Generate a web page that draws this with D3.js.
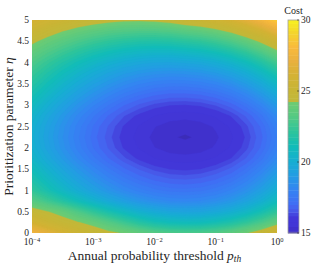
<!DOCTYPE html>
<html>
  <head>
    <meta charset="utf-8">
    <script src="https://d3js.org/d3.v7.min.js"></script>
    <style>
      body { margin: 0; background: #fff; }
      text { font-family: "Liberation Serif", "DejaVu Serif", serif; fill: #262626; }
      .tick { font-size: 9.5px; }
      .title { font-size: 13.5px; }
    </style>
  </head>
  <body>
    <script>

      // grid columns: log10 of the annual probability threshold
      var logP = [-4, -3.75, -3.5, -3.25, -3, -2.75, -2.5, -2.25, -2, -1.75, -1.5, -1.25, -1, -0.75, -0.5, -0.25, 0];
      // grid rows: prioritization parameter eta
      var eta = [0, 0.25, 0.5, 0.75, 1, 1.25, 1.5, 1.75, 2, 2.25, 2.5, 2.75, 3, 3.25, 3.5, 3.75, 4, 4.25, 4.5, 4.75, 5];
      // cost, one row per eta value
      var cost = [
        [27.60,26.90,26.20,25.50,24.95,24.50,24.15,23.70,23.30,23.05,22.95,23.00,23.20,23.58,24.14,24.87,25.77],
        [26.00,25.30,24.75,24.30,23.85,23.20,22.50,21.85,21.35,21.05,20.95,21.00,21.24,21.62,22.17,22.89,23.78],
        [24.80,24.30,23.80,23.00,22.20,21.45,20.80,20.20,19.80,19.52,19.42,19.47,19.69,20.06,20.60,21.32,22.20],
        [23.30,22.60,21.85,21.10,20.40,19.75,19.20,18.75,18.43,18.23,18.17,18.25,18.47,18.84,19.38,20.08,20.96],
        [22.23,21.43,20.66,19.95,19.31,18.74,18.25,17.87,17.58,17.40,17.35,17.43,17.65,18.02,18.55,19.25,20.12],
        [21.63,20.81,20.04,19.33,18.69,18.11,17.62,17.23,16.94,16.75,16.70,16.78,17.00,17.35,17.88,18.58,19.45],
        [21.08,20.26,19.49,18.77,18.13,17.55,17.05,16.66,16.36,16.18,16.12,16.19,16.41,16.76,17.29,17.98,18.85],
        [20.55,19.73,18.95,18.23,17.59,17.01,16.51,16.11,15.81,15.62,15.57,15.64,15.85,16.20,16.72,17.42,18.28],
        [20.21,19.39,18.61,17.89,17.24,16.66,16.16,15.76,15.46,15.27,15.22,15.29,15.50,15.85,16.37,17.06,17.92],
        [20.10,19.28,18.50,17.78,17.13,16.55,16.05,15.65,15.35,15.16,15.10,15.17,15.38,15.73,16.25,16.94,17.80],
        [20.19,19.37,18.60,17.88,17.23,16.66,16.16,15.76,15.47,15.28,15.22,15.29,15.50,15.86,16.38,17.07,17.93],
        [20.45,19.64,18.87,18.17,17.53,16.96,16.47,16.09,15.80,15.62,15.57,15.65,15.87,16.22,16.75,17.44,18.31],
        [20.89,20.09,19.34,18.65,18.03,17.48,17.00,16.63,16.36,16.20,16.17,16.25,16.47,16.84,17.37,18.08,18.95],
        [21.40,20.63,19.90,19.23,18.63,18.10,17.65,17.30,17.05,16.91,16.90,17.00,17.23,17.61,18.15,18.87,19.75],
        [21.92,21.17,20.47,19.83,19.26,18.76,18.33,18.01,17.79,17.68,17.70,17.81,18.05,18.44,19.00,19.73,20.63],
        [22.43,21.72,21.05,20.45,19.91,19.44,19.05,18.77,18.58,18.50,18.55,18.68,18.95,19.35,19.93,20.67,21.59],
        [23.01,22.34,21.72,21.15,20.65,20.22,19.88,19.63,19.48,19.45,19.54,19.69,19.97,20.40,21.00,21.76,22.70],
        [23.70,23.08,22.50,21.98,21.53,21.15,20.85,20.65,20.55,20.56,20.70,20.87,21.18,21.63,22.25,23.04,24.00],
        [24.46,23.89,23.37,22.90,22.50,22.17,21.93,21.78,21.73,21.80,21.99,22.19,22.52,23.00,23.65,24.46,25.45],
        [25.29,24.78,24.31,23.91,23.57,23.30,23.11,23.03,23.04,23.16,23.41,23.64,24.01,24.51,25.19,26.03,27.05],
        [26.19,25.74,25.34,25.00,24.73,24.53,24.40,24.38,24.46,24.65,24.97,25.23,25.62,26.16,26.87,27.75,28.80]
      ];

      var xTicks = [-4, -3, -2, -1, 0];
      var yTicks = [0, 0.5, 1, 1.5, 2, 2.5, 3, 3.5, 4, 4.5, 5];
      var cTicks = [15, 20, 25, 30];

      // contour levels: a few uneven ones round the minimum, then even steps
      var levels = [15, 15.13, 15.45, 15.8, 16.2, 16.45, 16.7].concat(d3.range(17, 30, 0.25));

      // colour map
      var cmapValues = [15, 15.13, 15.45, 15.8, 16.2, 16.45, 16.7, 17, 18, 19, 20, 21, 22, 23, 24, 24.001, 25, 26, 27, 28, 29, 30];
      var cmapColors = ["#3b2cb8", "#4031cc", "#4236d6", "#4237d8", "#4447df", "#4759e9", "#4465f0",
                        "#3f6ff4", "#3386f1", "#229ee2", "#16afd0", "#12bcb8", "#2cc49c", "#52c985",
                        "#6ccb73", "#c0b83a", "#c8b535", "#d4b234", "#e9b03e", "#f9bb3d", "#f4d52c", "#f8f51e"];

      var W = 326, H = 263;
      var plot = {left: 32, right: 277, top: 20, bottom: 233};
      var bar = {left: 288, width: 11};

      var x = d3.scaleLog().domain([1e-4, 1]).range([plot.left, plot.right]);
      var y = d3.scaleLinear().domain([0, 5]).range([plot.bottom, plot.top]);
      var cy = d3.scaleLinear().domain([15, 30]).range([plot.bottom, plot.top]);
      var color = d3.scaleLinear().domain(cmapValues).range(cmapColors).clamp(true);

      var svg = d3.select("body").append("svg")
          .attr("width", W)
          .attr("height", H);

      svg.append("defs").append("clipPath")
          .attr("id", "plotclip")
        .append("rect")
          .attr("x", plot.left)
          .attr("y", plot.top)
          .attr("width", plot.right - plot.left)
          .attr("height", plot.bottom - plot.top);

      // filled contours
      var nx = logP.length, ny = eta.length;
      var flat = [];
      cost.forEach(function(row) { row.forEach(function(v) { flat.push(v); }); });

      var dStep = logP[1] - logP[0], eStep = eta[1] - eta[0];
      var proj = d3.geoTransform({
        point: function(gx, gy) {
          var u = logP[0] + (gx - 0.5) * dStep;
          var e = eta[0] + (gy - 0.5) * eStep;
          this.stream.point(x(Math.pow(10, u)), y(e));
        }
      });
      var path = d3.geoPath(proj);

      var contours = d3.contours().size([nx, ny]).thresholds(levels)(flat);

      svg.append("g")
          .attr("clip-path", "url(#plotclip)")
        .selectAll("path")
        .data(contours)
        .enter().append("path")
          .attr("d", path)
          .attr("fill", function(d) { return color(d.value); })
          .attr("stroke", function(d) { return color(d.value); })
          .attr("stroke-width", 0.3);

      // y ticks
      svg.append("g").selectAll("text")
          .data(yTicks)
          .enter().append("text")
          .attr("class", "tick")
          .attr("x", plot.left - 3)
          .attr("y", function(d) { return y(d); })
          .attr("dy", "0.33em")
          .attr("text-anchor", "end")
          .text(function(d) { return d; });

      // x ticks (powers of ten)
      var xt = svg.append("g").selectAll("text")
          .data(xTicks)
          .enter().append("text")
          .attr("class", "tick")
          .attr("x", function(d) { return x(Math.pow(10, d)); })
          .attr("y", 245)
          .attr("text-anchor", "middle");
      xt.append("tspan").text("10");
      xt.append("tspan")
          .attr("dy", -3.5)
          .style("font-size", "6.5px")
          .text(function(d) { return d < 0 ? "\u2212" + (-d) : d; });

      // axis titles
      var xl = svg.append("text")
          .attr("class", "title")
          .attr("x", (plot.left + plot.right) / 2)
          .attr("y", 259.5)
          .attr("text-anchor", "middle");
      xl.append("tspan").text("Annual probability threshold ");
      xl.append("tspan").style("font-style", "italic").text("p");
      xl.append("tspan").style("font-style", "italic").style("font-size", "9.5px").attr("dy", 2).text("th");

      var yl = svg.append("text")
          .attr("class", "title")
          .attr("transform", "translate(13," + ((plot.top + plot.bottom) / 2) + ") rotate(-90)")
          .attr("text-anchor", "middle");
      yl.append("tspan").text("Prioritization parameter ");
      yl.append("tspan").style("font-style", "italic").text("\u03b7");

      // colour bar
      var cb = svg.append("g");
      cb.selectAll("rect")
          .data(levels)
          .enter().append("rect")
          .attr("x", bar.left)
          .attr("width", bar.width)
          .attr("y", function(d, i) { return cy(i < levels.length - 1 ? levels[i + 1] : 30); })
          .attr("height", function(d, i) { return cy(d) - cy(i < levels.length - 1 ? levels[i + 1] : 30) + 0.4; })
          .attr("fill", function(d) { return color(d); });

      cb.append("rect")
          .attr("x", bar.left)
          .attr("y", plot.top)
          .attr("width", bar.width)
          .attr("height", plot.bottom - plot.top)
          .attr("fill", "none")
          .attr("stroke", "#a0a0a0")
          .attr("stroke-width", 0.8);

      cb.selectAll("line")
          .data(cTicks)
          .enter().append("line")
          .attr("x1", bar.left + bar.width - 2)
          .attr("x2", bar.left + bar.width)
          .attr("y1", function(d) { return cy(d); })
          .attr("y2", function(d) { return cy(d); })
          .attr("stroke", "#262626")
          .attr("stroke-width", 0.6);

      cb.selectAll("text.ctick")
          .data(cTicks)
          .enter().append("text")
          .attr("class", "tick ctick")
          .attr("x", bar.left + bar.width + 2)
          .attr("y", function(d) { return cy(d); })
          .attr("dy", "0.33em")
          .text(function(d) { return d; });

      svg.append("text")
          .attr("class", "tick")
          .attr("x", bar.left + bar.width / 2)
          .attr("y", 14)
          .attr("text-anchor", "middle")
          .style("font-size", "10px")
          .text("Cost");

    </script>
  </body>
</html>
